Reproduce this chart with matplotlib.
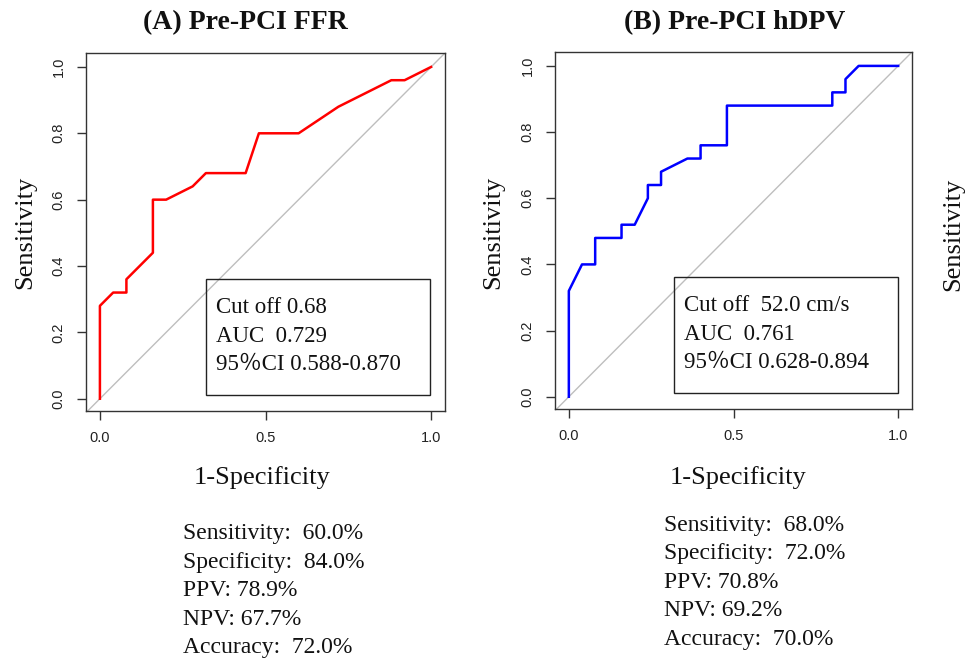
import matplotlib
matplotlib.use('Agg')
import matplotlib.pyplot as plt
import matplotlib.patches as mpatches

W, H = 969, 660

# ROC curve points (1-specificity, sensitivity)
ffr_fpr = [0.0, 0.0, 0.04, 0.08, 0.08, 0.16, 0.16, 0.20, 0.28, 0.32, 0.44, 0.48,
           0.60, 0.72, 0.80, 0.88, 0.92, 1.0]
ffr_tpr = [0.0, 0.28, 0.32, 0.32, 0.36, 0.44, 0.60, 0.60, 0.64, 0.68, 0.68, 0.80,
           0.80, 0.88, 0.92, 0.96, 0.96, 1.0]

hdpv_fpr = [0.0, 0.0, 0.04, 0.08, 0.08, 0.16, 0.16, 0.20, 0.24, 0.24, 0.28, 0.28,
            0.36, 0.40, 0.40, 0.48, 0.48, 0.80, 0.80, 0.84, 0.84, 0.88, 1.0]
hdpv_tpr = [0.0, 0.32, 0.40, 0.40, 0.48, 0.48, 0.52, 0.52, 0.60, 0.64, 0.64, 0.68,
            0.72, 0.72, 0.76, 0.76, 0.88, 0.88, 0.92, 0.92, 0.96, 1.0, 1.0]

titles = ['(A) Pre-PCI FFR', '(B) Pre-PCI hDPV']
box_lines = [
    ['Cut off 0.68', 'AUC  0.729', '95\uff05CI 0.588-0.870'],
    ['Cut off  52.0 cm/s', 'AUC  0.761', '95\uff05CI 0.628-0.894'],
]
stats_lines = [
    ['Sensitivity:  60.0%', 'Specificity:  84.0%', 'PPV: 78.9%', 'NPV: 67.7%', 'Accuracy:  72.0%'],
    ['Sensitivity:  68.0%', 'Specificity:  72.0%', 'PPV: 70.8%', 'NPV: 69.2%', 'Accuracy:  70.0%'],
]
curve_colors = ['#FF0000', '#0000FF']

SERIF = ['Liberation Serif', 'Noto Sans CJK JP']
SANS = 'Liberation Sans'


def fx(px):
    return px / W


def fy(py):
    return 1 - py / H


fig = plt.figure(figsize=(W / 100, H / 100), dpi=100, facecolor='white')

# axes frames in pixels: (left, top, right, bottom)
frames = [(86, 53, 445, 411), (555, 52, 912, 409)]
title_x = [245, 735]
ylabel_x = [25, 493]
xlabel_x = [262, 738]
stats_x = [183, 664]
stats_y0 = [534, 525]

for i, (l, t, r, b) in enumerate(frames):
    ax = fig.add_axes([fx(l), fy(b), (r - l) / W, (b - t) / H])
    fpr = [ffr_fpr, hdpv_fpr][i]
    tpr = [ffr_tpr, hdpv_tpr][i]

    ax.axline((0, 0), (1, 1), color='#BEBEBE', linewidth=1, zorder=1)
    ax.plot(fpr, tpr, color=curve_colors[i], linewidth=1.8, zorder=3)

    ax.set_xlim(-0.042, 1.042)
    ax.set_ylim(-0.037, 1.042)
    ax.set_xticks([0, 0.5, 1.0])
    ax.set_xticklabels(['0.0', '0.5', '1.0'])
    ax.set_yticks([0, 0.2, 0.4, 0.6, 0.8, 1.0])
    ax.set_yticklabels(['0.0', '0.2', '0.4', '0.6', '0.8', '1.0'], rotation=90, va='center')
    ax.tick_params(length=6.5, width=1, color='#333333', labelsize=10.5, pad=8,
                   labelcolor='#222222')
    for lab in ax.get_xticklabels() + ax.get_yticklabels():
        lab.set_fontfamily(SANS)
    for sp in ax.spines.values():
        sp.set_color('#333333')
        sp.set_linewidth(1)

    # legend-style box at bottom right
    ax.add_patch(mpatches.Rectangle((0.319, 0.012), 0.679, 0.35, fill=False,
                                    edgecolor='#222222', linewidth=1, zorder=4))
    for j, line in enumerate(box_lines[i]):
        ax.text(0.35, 0.275 - j * 0.086, line, family=SERIF, fontsize=16.5,
                va='center', ha='left', color='#111111', zorder=5)

    fig.text(fx(title_x[i]), fy(23), titles[i], family=SERIF, fontsize=20,
             fontweight='bold', ha='center', va='center', color='#111111')
    fig.text(fx(ylabel_x[i]), fy(232), 'Sensitivity', family=SERIF, fontsize=19,
             rotation=90, ha='center', va='center', color='#111111')
    fig.text(fx(xlabel_x[i]), fy(478), '1-Specificity', family=SERIF, fontsize=19,
             ha='center', va='center', color='#111111')
    for j, line in enumerate(stats_lines[i]):
        fig.text(fx(stats_x[i]), fy(stats_y0[i] + j * 28.5), line, family=SERIF,
                 fontsize=17, ha='left', va='center', color='#111111')

# label of a third panel that is cut off at the right edge
fig.text(fx(953), fy(234), 'Sensitivity', family=SERIF, fontsize=19,
         rotation=90, ha='center', va='center', color='#111111')

fig.savefig('out.png', dpi=100, facecolor='white')
